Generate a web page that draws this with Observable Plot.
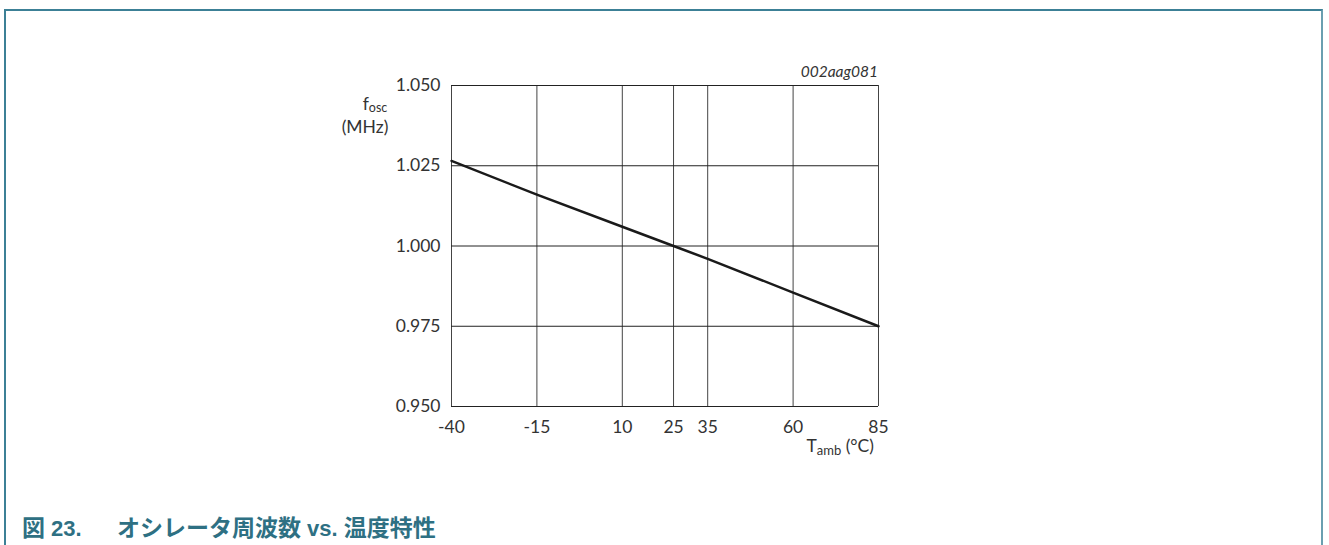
<!DOCTYPE html>
<html>
<head>
<meta charset="utf-8">
<script src="https://cdn.jsdelivr.net/npm/d3@7"></script>
<script src="https://cdn.jsdelivr.net/npm/@observablehq/plot@0.6"></script>
<style>
  html, body { margin: 0; padding: 0; background: #fff; }
  #wrap { position: relative; width: 1329px; height: 545px; overflow: hidden; }
  #frame { position: absolute; left: 4px; top: 9px; width: 1319px; height: 545px;
           border-left: 2px solid #3c8096; border-top: 2px solid #3c8096; border-right: 2px solid #6a9fb0; box-sizing: border-box; }
  #caption { position: absolute; left: 22px; top: 515px; line-height: 23px; font-family: "Liberation Sans", "Noto Sans CJK JP", sans-serif;
             font-weight: bold; font-size: 22px; color: #2e7083; white-space: nowrap; }
  #caption .num { display: inline-block; width: 95px; }
  #caption .jp { font-family: "Noto Sans CJK JP", sans-serif; font-size: 23px; }
  #chart { position: absolute; left: 0; top: 0; }
</style>
</head>
<body>
<div id="wrap">
  <div id="chart"></div>
  <div id="frame"></div>
  <div id="caption"><span class="num"><span class="jp">図</span> 23.</span><span class="jp">オシレータ周波数</span> vs. <span class="jp">温度特性</span></div>
</div>
<script>
const temps = [-40, -15, 10, 25, 35, 60, 85];
const freqs = [1.0265, 1.016, 1.006, 1.000, 0.996, 0.9855, 0.975];
const xTicks = [-40, -15, 10, 25, 35, 60, 85];
const yTicks = [0.950, 0.975, 1.000, 1.025, 1.050];

const data = temps.map((t, i) => ({t, f: freqs[i]}));

const font = "Lato, 'Open Sans', sans-serif";
const fs = 17.5;
const chart = Plot.plot({
  width: 1329,
  height: 545,
  marginLeft: 451,
  marginRight: 451,
  marginTop: 85,
  marginBottom: 139,
  style: {fontFamily: font, fontSize: fs + "px", color: "#333", background: "transparent"},
  x: {domain: [-40, 85], ticks: xTicks, tickFormat: d => String(d), label: null},
  y: {domain: [0.950, 1.050], ticks: yTicks, tickFormat: d3.format(".3f"), label: null},
  marks: [
    Plot.ruleX(xTicks, {stroke: "#444", strokeWidth: 1, strokeOpacity: 1}),
    Plot.ruleY(yTicks, {stroke: "#222", strokeWidth: 1, strokeOpacity: 1}),
    Plot.axisX({ticks: xTicks, tickSize: 0, tickPadding: 14, tickFormat: d => String(d), fontSize: fs, fill: "#333", label: null}),
    Plot.axisY({ticks: yTicks, tickSize: 0, tickPadding: 11, tickFormat: d3.format(".3f"), fontSize: fs, fill: "#333", label: null}),
    Plot.line(data, {x: "t", y: "f", stroke: "#1a1a1a", strokeWidth: 2.5})
  ]
});
document.getElementById("chart").appendChild(chart);

const svg = d3.select(chart);
// y axis label
const yl = svg.append("text").attr("font-family", font).attr("font-size", fs).attr("fill", "#333");
yl.append("tspan").attr("x", 375).attr("y", 110).text("f");
yl.append("tspan").attr("font-size", 12.5).attr("dy", 2).text("osc");
svg.append("text").attr("font-family", font).attr("font-size", fs).attr("fill", "#333")
  .attr("x", 365).attr("y", 133).text("(MHz)");
// x axis label
const xl = svg.append("text").attr("font-family", font).attr("font-size", fs).attr("fill", "#333")
  .attr("text-anchor", "end");
xl.append("tspan").attr("x", 874).attr("y", 452).text("T");
xl.append("tspan").attr("font-size", 13).attr("dy", 3).text("amb");
xl.append("tspan").attr("dy", -3).text(" (°C)");
// figure id
svg.append("text").attr("font-family", font).attr("font-size", 15.5).attr("font-style", "italic")
  .attr("fill", "#333").attr("text-anchor", "end").attr("x", 878).attr("y", 77).text("002aag081");
</script>
</body>
</html>
